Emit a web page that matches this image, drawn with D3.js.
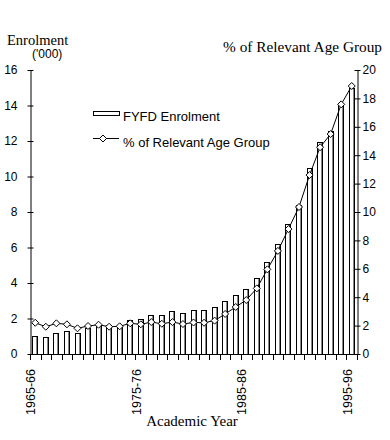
<!DOCTYPE html>
<html>
<head>
<meta charset="utf-8">
<script src="https://cdn.jsdelivr.net/npm/d3@7"></script>
<style>
  html, body { margin: 0; padding: 0; background: #fff; }
  svg { display: block; }
  .tick text { font-family: "Liberation Sans", Arial, sans-serif; font-size: 12px; fill: #000; }
</style>
</head>
<body>
<svg id="chart" width="390" height="440"></svg>
<script>
const years = ["1965-66","1966-67","1967-68","1968-69","1969-70","1970-71","1971-72","1972-73","1973-74","1974-75",
  "1975-76","1976-77","1977-78","1978-79","1979-80","1980-81","1981-82","1982-83","1983-84","1984-85",
  "1985-86","1986-87","1987-88","1988-89","1989-90","1990-91","1991-92","1992-93","1993-94","1994-95","1995-96"];
const enrolment = [1.0, 0.95, 1.17, 1.28, 1.2, 1.46, 1.62, 1.62, 1.62, 1.94,
  1.99, 2.18, 2.17, 2.4, 2.33, 2.46, 2.5, 2.66, 3.0, 3.33,
  3.66, 4.27, 5.21, 6.18, 7.3, 8.42, 10.5, 11.92, 12.57, 14.1, 15.0];
const pctAgeGroup = [2.2, 1.92, 2.16, 2.09, 1.81, 1.97, 2.06, 1.92, 1.95, 2.16,
  2.09, 2.25, 2.13, 2.25, 2.11, 2.22, 2.2, 2.35, 2.82, 3.31,
  3.8, 4.62, 5.96, 7.26, 8.8, 10.35, 12.6, 14.56, 15.49, 17.58, 18.87];
const leftTicks = [0,2,4,6,8,10,12,14,16];
const rightTicks = [0,2,4,6,8,10,12,14,16,18,20];
const labelledYears = ["1965-66","1975-76","1985-86","1995-96"];

const svg = d3.select("#chart");
const L = 30, R = 357, T = 70, B = 354;

const x = d3.scaleBand().domain(years).range([L, R]).paddingInner(0.44).paddingOuter(0.22);
const yL = d3.scaleLinear().domain([0, 16]).range([B, T]);
const yR = d3.scaleLinear().domain([0, 20]).range([B, T]);
const step = x.step(), bw = x.bandwidth();

// bars
const bars = svg.append("g");
bars.selectAll("rect.bar").data(years).join("rect")
  .attr("class","bar")
  .attr("x", d => Math.round(x(d)) + 0.5)
  .attr("y", (d,i) => Math.round(yL(enrolment[i])) + 0.5)
  .attr("width", Math.round(bw) - 1)
  .attr("height", (d,i) => B - Math.round(yL(enrolment[i])))
  .attr("fill", "#fff").attr("stroke", "#000").attr("stroke-width", 1);
bars.selectAll("line.shade").data(years).join("line")
  .attr("class","shade")
  .attr("x1", d => Math.round(x(d)) + Math.round(bw) - 1.5)
  .attr("x2", d => Math.round(x(d)) + Math.round(bw) - 1.5)
  .attr("y1", (d,i) => Math.round(yL(enrolment[i])) + 1)
  .attr("y2", B)
  .attr("stroke", "#888").attr("stroke-width", 1);

// line
const cx = d => x(d) + bw / 2;
const line = d3.line().x((d,i) => cx(years[i])).y(d => yR(d));
svg.append("path").datum(pctAgeGroup).attr("d", line)
  .attr("fill","none").attr("stroke","#000").attr("stroke-width",1);
const diamond = (px, py, s) => `M${px},${py-s}L${px+s},${py}L${px},${py+s}L${px-s},${py}Z`;
svg.append("g").selectAll("path").data(pctAgeGroup).join("path")
  .attr("d", (d,i) => diamond(cx(years[i]), yR(d), 3.5))
  .attr("fill","#fff").attr("stroke","#000").attr("stroke-width",1);

// left axis
const gL = svg.append("g").attr("transform", `translate(${L + 0.5},0)`)
  .call(d3.axisLeft(yL).tickValues(leftTicks).tickSize(3).tickSizeOuter(0).tickPadding(10).tickFormat(d3.format("d")));
gL.selectAll(".tick line").attr("x1", -3).attr("x2", 3);
gL.select(".domain").attr("stroke","#000");

// right axis
const gR = svg.append("g").attr("transform", `translate(${R + 0.5},0)`)
  .call(d3.axisRight(yR).tickValues(rightTicks).tickSize(3).tickSizeOuter(0).tickPadding(2).tickFormat(d3.format("d")));
gR.selectAll(".tick line").attr("x1", -3).attr("x2", 3);

// x axis baseline and ticks at category boundaries
svg.append("line").attr("x1", L).attr("x2", R + 1).attr("y1", B + 0.5).attr("y2", B + 0.5).attr("stroke","#000");
const bounds = years.map(d => x(d) - (step - bw) / 2).concat([x(years[years.length-1]) + bw + (step - bw) / 2]);
svg.append("g").selectAll("line").data(bounds).join("line")
  .attr("x1", d => Math.round(d) + 0.5).attr("x2", d => Math.round(d) + 0.5)
  .attr("y1", B).attr("y2", B + 6).attr("stroke","#000");
svg.append("g").selectAll("text").data(labelledYears).join("text")
  .attr("transform", d => `translate(${cx(d)},${B + 15}) rotate(-90)`)
  .attr("text-anchor","end")
  .attr("font-family","Liberation Sans, Arial, sans-serif").attr("font-size", 12.5)
  .text(d => d);

// titles
const serif = "Liberation Serif, Times New Roman, serif";
svg.append("text").attr("x", 7).attr("y", 45).attr("font-family", serif).attr("font-size", 14.5).text("Enrolment");
svg.append("text").attr("x", 32).attr("y", 58).attr("font-family","Liberation Sans, Arial, sans-serif").attr("font-size", 12).text("('000)");
svg.append("text").attr("x", 382).attr("y", 52).attr("text-anchor","end").attr("font-family", serif).attr("font-size", 15.3).text("% of Relevant Age Group");
svg.append("text").attr("x", 192).attr("y", 426).attr("text-anchor","middle").attr("font-family", serif).attr("font-size", 15).text("Academic Year");

// legend
const lg = svg.append("g");
const legendFont = 13;
lg.append("rect").attr("x", 93.5).attr("y", 111.5).attr("width", 26).attr("height", 4).attr("fill","#fff").attr("stroke","#000");
lg.append("text").attr("x", 123).attr("y", 121).attr("font-family","Liberation Sans, Arial, sans-serif").attr("font-size", legendFont).text("FYFD Enrolment");
lg.append("line").attr("x1", 93).attr("x2", 119).attr("y1", 138.5).attr("y2", 138.5).attr("stroke","#000");
lg.append("path").attr("d", diamond(103, 138.5, 3.5)).attr("fill","#fff").attr("stroke","#000");
lg.append("text").attr("x", 123).attr("y", 147).attr("font-family","Liberation Sans, Arial, sans-serif").attr("font-size", legendFont).text("% of Relevant Age Group");
</script>
</body>
</html>
